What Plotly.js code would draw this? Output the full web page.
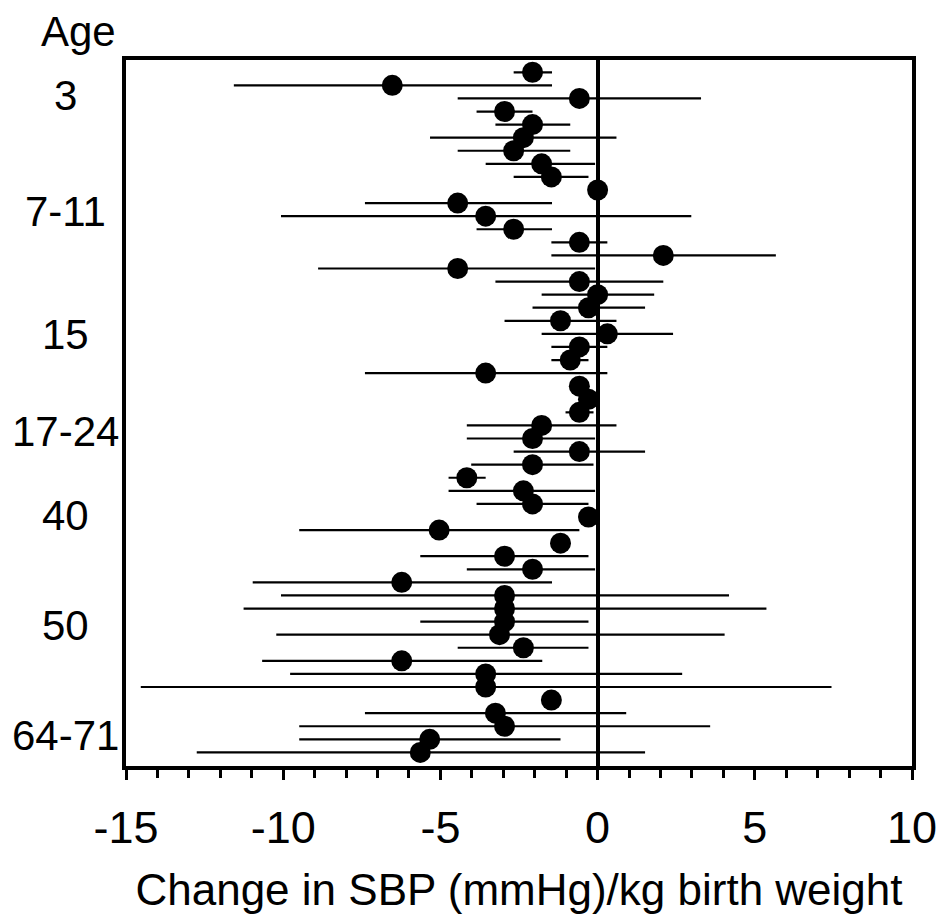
<!DOCTYPE html>
<html>
<head>
<meta charset="utf-8">
<script src="https://cdn.plot.ly/plotly-3.0.1.min.js"></script>
<style>html,body{margin:0;padding:0;background:#fff;}#chart{width:943px;height:916px;}</style>
</head>
<body>
<div id="chart"></div>
<script>
// Study rows (top to bottom)
const rows = [1,2,3,4,5,6,7,8,9,10,11,12,13,14,15,16,17,18,19,20,21,22,23,24,25,26,27,28,29,30,31,32,33,34,35,36,37,38,39,40,41,42,43,44,45,46,47,48,49,50,51,52,53];
// Point estimates: change in SBP (mmHg) per kg birth weight
const estimate = [-2.07,-6.53,-0.58,-2.96,-2.07,-2.36,-2.67,-1.78,-1.47,0.0,
  -4.45,-3.56,-2.67,-0.58,2.09,-4.45,-0.58,0.0,-0.29,-1.18,
  0.31,-0.58,-0.87,-3.56,-0.58,-0.29,-0.58,-1.78,-2.07,-0.58,
  -2.07,-4.16,-2.36,-2.07,-0.29,-5.04,-1.18,-2.96,-2.07,-6.23,
  -2.96,-2.96,-2.96,-3.12,-2.36,-6.23,-3.56,-3.56,-1.47,-3.25,
  -2.96,-5.34,-5.64];
// Lower confidence limits
const lower = [-2.67,-11.57,-4.45,-3.85,-3.25,-5.33,-4.45,-3.56,-2.67,0.0,
  -7.4,-10.07,-3.85,-1.47,-1.47,-8.89,-3.25,-1.78,-2.07,-2.96,
  -1.78,-1.47,-1.47,-7.4,-0.58,-0.29,-1.02,-4.16,-4.16,-2.67,
  -4.02,-4.74,-4.74,-3.85,-0.29,-9.49,-1.18,-5.64,-4.16,-10.97,
  -10.07,-11.26,-5.64,-10.22,-4.45,-10.67,-9.78,-14.53,-1.47,-7.4,
  -9.49,-9.49,-12.75];
// Upper confidence limits
const upper = [-1.45,-1.45,3.29,-2.07,-0.87,0.6,-0.87,-0.08,-0.29,0.0,
  -1.45,2.98,-1.45,0.31,5.67,-0.08,2.09,1.8,1.51,0.6,
  2.4,0.31,-0.29,0.31,-0.58,-0.29,-0.13,0.6,-0.08,1.51,
  -0.13,-3.56,-0.08,-0.29,-0.29,-0.58,-1.18,-0.29,-0.08,-1.45,
  4.18,5.37,-0.29,4.04,-0.29,-1.76,2.69,7.44,-1.47,0.91,
  3.58,-1.18,1.51];
// Age group labels and their vertical positions (in row units)
const ageLabels = ["3","7-11","15","17-24","40","50","64-71"];
const agePos = [2.81,11.66,21.05,28.43,34.92,43.27,51.72];
const xTickVals = [-15,-10,-5,0,5,10];
const xTickText = ["-15","-10","-5","0","5","10"];

const FONT = "Arial, 'Liberation Sans', sans-serif";

const trace = {
  type: "scatter", mode: "markers", x: estimate, y: rows,
  marker: {size: 21, color: "#000", symbol: "circle", line: {width: 0}},
  error_x: {
    type: "data", symmetric: false,
    array: upper.map((u, i) => u - estimate[i]),
    arrayminus: estimate.map((e, i) => e - lower[i]),
    color: "#000", thickness: 2.2, width: 0
  },
  hoverinfo: "x+y", showlegend: false
};

const annotations = ageLabels.map((t, i) => ({
  text: t, xref: "paper", x: -0.0776, yref: "y", y: agePos[i],
  xanchor: "center", yanchor: "middle", showarrow: false,
  font: {family: FONT, size: 42, color: "#000"}
}));
annotations.push({
  text: "Age", xref: "paper", x: -0.060, yref: "paper", y: 1.040,
  xanchor: "center", yanchor: "middle", showarrow: false,
  font: {family: FONT, size: 42, color: "#000"}
});

const layout = {
  width: 943, height: 916,
  margin: {l: 126, r: 31, t: 60, b: 150, pad: 0},
  paper_bgcolor: "#fff", plot_bgcolor: "#fff",
  font: {family: FONT, color: "#000"},
  xaxis: {
    range: [-15, 10],
    tickmode: "array", tickvals: xTickVals, ticktext: xTickText,
    ticks: "outside", ticklen: 10, tickwidth: 3, tickcolor: "#000",
    minor: {dtick: 1, ticks: "outside", ticklen: 8, tickwidth: 3, tickcolor: "#000", showgrid: false},
    showgrid: false,
    zeroline: true, zerolinewidth: 4, zerolinecolor: "#000",
    showline: true, linewidth: 4, linecolor: "#000", mirror: true,
    tickfont: {family: FONT, size: 45, color: "#000"},
    ticklabelstandoff: 9,
    title: {text: "Change in SBP (mmHg)/kg birth weight", font: {family: FONT, size: 44, color: "#000"}, standoff: 23},
    fixedrange: true
  },
  yaxis: {
    range: [54.04, 0.06],
    showticklabels: false, ticks: "",
    showgrid: false, zeroline: false,
    showline: true, linewidth: 4, linecolor: "#000", mirror: true,
    fixedrange: true
  },
  annotations: annotations,
  showlegend: false
};

Plotly.newPlot("chart", [trace], layout, {displayModeBar: false, staticPlot: true});
</script>
</body>
</html>
